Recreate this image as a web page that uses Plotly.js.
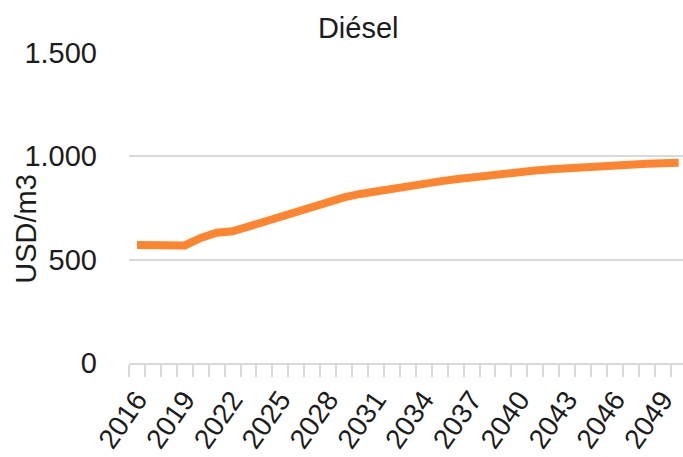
<!DOCTYPE html>
<html>
<head>
<meta charset="utf-8">
<script src="https://cdn.plot.ly/plotly-3.0.1.min.js"></script>
<style>
  html, body { margin: 0; padding: 0; background: #fff; }
  #chart { width: 683px; height: 457px; }
</style>
</head>
<body>
<div id="chart"></div>
<script>
// Diesel price projection, USD per cubic metre
const years = [2016, 2017, 2018, 2019, 2020, 2021, 2022, 2023, 2024, 2025,
               2026, 2027, 2028, 2029, 2030, 2031, 2032, 2033, 2034, 2035,
               2036, 2037, 2038, 2039, 2040, 2041, 2042, 2043, 2044, 2045,
               2046, 2047, 2048, 2049, 2050];
const dieselPrice = [571, 570, 570, 569, 605, 630, 637, 660, 690, 710,
                     737, 761, 782, 801, 818, 832, 845, 857, 868, 879,
                     889, 899, 908, 916, 924, 931, 937, 943, 948, 953,
                     957, 961, 964, 967, 969];
const labelYears = [2016, 2019, 2022, 2025, 2028, 2031, 2034, 2037, 2040, 2043, 2046, 2049];
const yTicks = [0, 500, 1000, 1500];

const FONT = "'Liberation Sans', Arial, sans-serif";
const TXT = '#1c1c1c';

const trace = {
  x: years,
  y: dieselPrice,
  type: 'scatter',
  mode: 'lines',
  line: { color: '#fd8530', width: 8, shape: 'linear' },
  hoverinfo: 'x+y'
};

const layout = {
  width: 683,
  height: 457,
  margin: { l: 129, r: 0, t: 53, b: 94 },
  paper_bgcolor: '#ffffff',
  plot_bgcolor: '#ffffff',
  separators: ',.',
  showlegend: false,
  font: { family: FONT, color: TXT, size: 29 },
  title: {
    text: 'Diésel',
    font: { family: FONT, size: 29, color: TXT },
    xref: 'container', yref: 'container',
    x: 0.5245, y: 0.938, xanchor: 'center', yanchor: 'middle'
  },
  xaxis: {
    range: [2015.5, 2050.27],
    tickmode: 'array',
    tickvals: labelYears,
    tickangle: -55,
    ticks: '',
    ticklabelstandoff: 7,
    showgrid: false,
    zeroline: false,
    showline: true,
    linecolor: '#d9d9d9',
    linewidth: 2,
    tickfont: { family: FONT, size: 28, color: TXT },
    minor: {
      tickmode: 'linear',
      tick0: 2015.5,
      dtick: 1,
      ticks: 'outside',
      ticklen: 12,
      tickwidth: 2,
      tickcolor: '#d9d9d9',
      showgrid: false
    }
  },
  yaxis: {
    range: [0, 1500],
    tickmode: 'array',
    tickvals: yTicks,
    tickformat: ',d',
    ticks: '',
    showline: false,
    zeroline: false,
    showgrid: true,
    gridcolor: '#d9d9d9',
    gridwidth: 2,
    ticklabelstandoff: 31,
    tickfont: { family: FONT, size: 29, color: TXT }
  },
  annotations: [{
    text: 'USD/m3',
    xref: 'paper', yref: 'paper',
    x: -0.186, y: 0.433,
    xanchor: 'center', yanchor: 'middle',
    textangle: -90,
    showarrow: false,
    font: { family: FONT, size: 29, color: TXT }
  }]
};

Plotly.newPlot('chart', [trace], layout, { staticPlot: true, displayModeBar: false });
</script>
</body>
</html>
